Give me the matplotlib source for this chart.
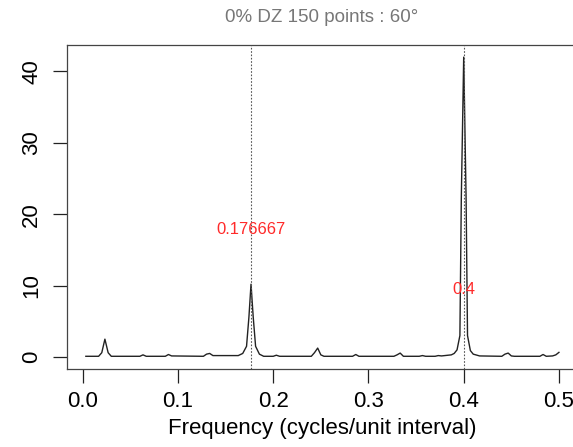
import matplotlib
matplotlib.use("Agg")
import matplotlib.pyplot as plt

plt.rcParams['font.family'] = ['Liberation Sans', 'DejaVu Sans']

# periodogram vertices (frequency, spectrum)
freq = [0.0033, 0.0167, 0.0200, 0.0233, 0.0267, 0.0300,
        0.0600, 0.0633, 0.0667, 0.0867, 0.0900, 0.0933,
        0.1267, 0.1300, 0.1333, 0.1367, 0.1633,
        0.1680, 0.1720, 0.1745, 0.1767, 0.1790, 0.1815, 0.1855, 0.1900,
        0.2000, 0.2033, 0.2067, 0.2400, 0.2433, 0.2467, 0.2500, 0.2533,
        0.2833, 0.2867, 0.2900, 0.3267, 0.3300, 0.3333, 0.3367,
        0.3533, 0.3567, 0.3600, 0.3700, 0.3733, 0.3767,
        0.3870, 0.3900, 0.3930, 0.3960, 0.3975, 0.4000, 0.4025, 0.4040, 0.4070, 0.4100, 0.4167,
        0.4400, 0.4433, 0.4467, 0.4500, 0.4533,
        0.4800, 0.4833, 0.4867, 0.4933, 0.4967, 0.5000]
spec = [0.1, 0.1, 0.6, 2.5, 0.6, 0.1,
        0.1, 0.3, 0.1, 0.1, 0.35, 0.15,
        0.1, 0.4, 0.5, 0.2, 0.2,
        0.5, 1.5, 5.6, 10.2, 5.6, 1.5, 0.4, 0.1,
        0.1, 0.25, 0.1, 0.1, 0.6, 1.25, 0.3, 0.1,
        0.1, 0.35, 0.1, 0.1, 0.3, 0.55, 0.1,
        0.1, 0.2, 0.1, 0.1, 0.2, 0.15,
        0.3, 0.5, 1.0, 3.0, 22.3, 42.0, 22.3, 3.0, 0.9, 0.4, 0.15,
        0.1, 0.4, 0.55, 0.15, 0.1,
        0.1, 0.35, 0.1, 0.15, 0.3, 0.65]

peaks = [0.176667, 0.4]
peak_labels = ["0.176667", "0.4"]
label_y = [17.8, 9.5]

title = "0% DZ 150 points : 60\u00b0"
xlab = "Frequency (cycles/unit interval)"

fig = plt.figure(figsize=(5.73, 4.47), dpi=100)
ax = fig.add_axes([67/573, 78/447, 511/573, 324/447])

ax.plot(freq, spec, color='#222222', lw=1.0)
for p in peaks:
    ax.axvline(p, color='#555555', lw=0.8, ls=(0, (1.5, 1.5)))
for p, lab, y in zip(peaks, peak_labels, label_y):
    ax.text(p, y, lab, color='#ff2a2a', fontsize=12, ha='center', va='center')

ax.set_xlim(-0.0165, 0.52)
ax.set_ylim(-1.68, 43.7)
ax.set_xticks([0.0, 0.1, 0.2, 0.3, 0.4, 0.5])
ax.set_xticklabels(["0.0", "0.1", "0.2", "0.3", "0.4", "0.5"])
ax.set_yticks([0, 10, 20, 30, 40])
ax.tick_params(length=10, width=0.9, labelsize=16, pad=6, color='#222222')
ax.tick_params(axis='y', pad=8)
for lab in ax.get_yticklabels():
    lab.set_rotation(90)
    lab.set_va('center')
for s in ax.spines.values():
    s.set_color('#444444')
    s.set_linewidth(0.9)

ax.set_xlabel(xlab, fontsize=16, labelpad=4)
fig.text(322/573, 1 - 18/447, title, color='#777777', fontsize=13.5, ha='center', va='center')

plt.savefig("out.png", dpi=100)
